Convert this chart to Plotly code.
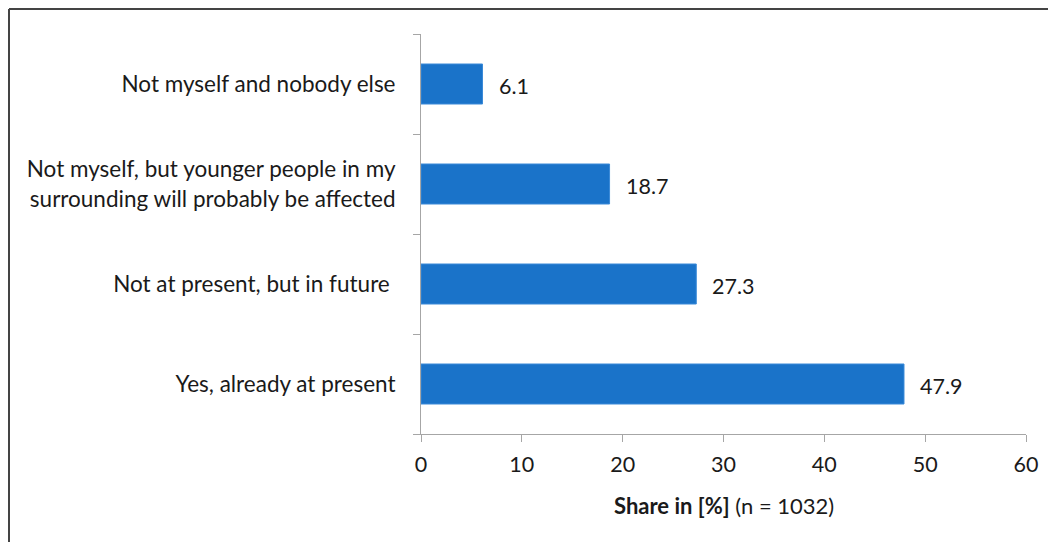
import plotly.graph_objects as go

categories = [
    "Yes, already at present",
    "Not at present, but in future\u00a0",
    "Not myself, but younger people in my<br>surrounding will probably be affected",
    "Not myself and nobody else",
]
values = [47.9, 27.3, 18.7, 6.1]
value_labels = ["47.9", "27.3", "18.7", "6.1"]
x_ticks = [0, 10, 20, 30, 40, 50, 60]

# page body has an 8px margin, so the figure starts at (8, 8)
W, H = 1048, 534
L, T, PW, PH = 413, 26, 605, 400
R, B = W - L - PW, H - T - PH

FONT = "Lato, Calibri, Carlito, sans-serif"
BAR = "#1a73c9"
AXIS = "#a6a6a6"
TXT = "#1a1a1a"

fig = go.Figure()
fig.add_trace(go.Bar(
    x=values, y=categories, orientation="h",
    marker=dict(color=BAR, line=dict(color="#3a8ad8", width=1)),
    width=0.4, hoverinfo="skip",
))

for v, lab, c in zip(values, value_labels, categories):
    fig.add_annotation(x=v, y=c, text=lab, showarrow=False, xanchor="left",
                       xshift=14, yshift=-2,
                       font=dict(family=FONT, size=21.5, color=TXT))

fig.add_annotation(
    xref="paper", yref="paper", x=0.5, y=-71 / PH,
    text="<b>Share in [%]</b> (n = 1032)", showarrow=False,
    xanchor="center", yanchor="middle",
    font=dict(family=FONT, size=22, color=TXT),
)

# outer frame (top and left edges)
fx = (1 - L) / PW
fy = 1 + (T - 1) / PH
fig.add_shape(type="line", xref="paper", yref="paper",
              x0=fx, x1=(W + 5 - L) / PW, y0=fy, y1=fy,
              line=dict(color="#444444", width=2))
fig.add_shape(type="line", xref="paper", yref="paper",
              x0=fx, x1=fx, y0=fy, y1=-(B + 5) / PH,
              line=dict(color="#444444", width=2))

fig.update_layout(
    width=W, height=H,
    margin=dict(l=L, r=R, t=T, b=B, pad=0),
    paper_bgcolor="white", plot_bgcolor="white",
    showlegend=False,
    font=dict(family=FONT, size=21, color=TXT),
    xaxis=dict(
        range=[0, 60], tickvals=x_ticks, ticktext=[str(t) for t in x_ticks],
        showgrid=False, zeroline=False, showline=True, linecolor=AXIS, linewidth=1,
        ticks="outside", ticklen=7, tickcolor=AXIS, tickwidth=1,
        ticklabelstandoff=4,
        tickfont=dict(family=FONT, size=21.5, color=TXT),
        fixedrange=True,
    ),
    yaxis=dict(
        categoryorder="array", categoryarray=categories,
        showgrid=False, zeroline=False, showline=True, linecolor=AXIS, linewidth=1,
        ticks="outside", ticklen=7, tickcolor=AXIS, tickwidth=1,
        tickson="boundaries", ticklabelstandoff=20,
        tickfont=dict(family=FONT, size=22.5, color=TXT),
        fixedrange=True,
    ),
)

fig.write_html("out.html", config=dict(displayModeBar=False))
